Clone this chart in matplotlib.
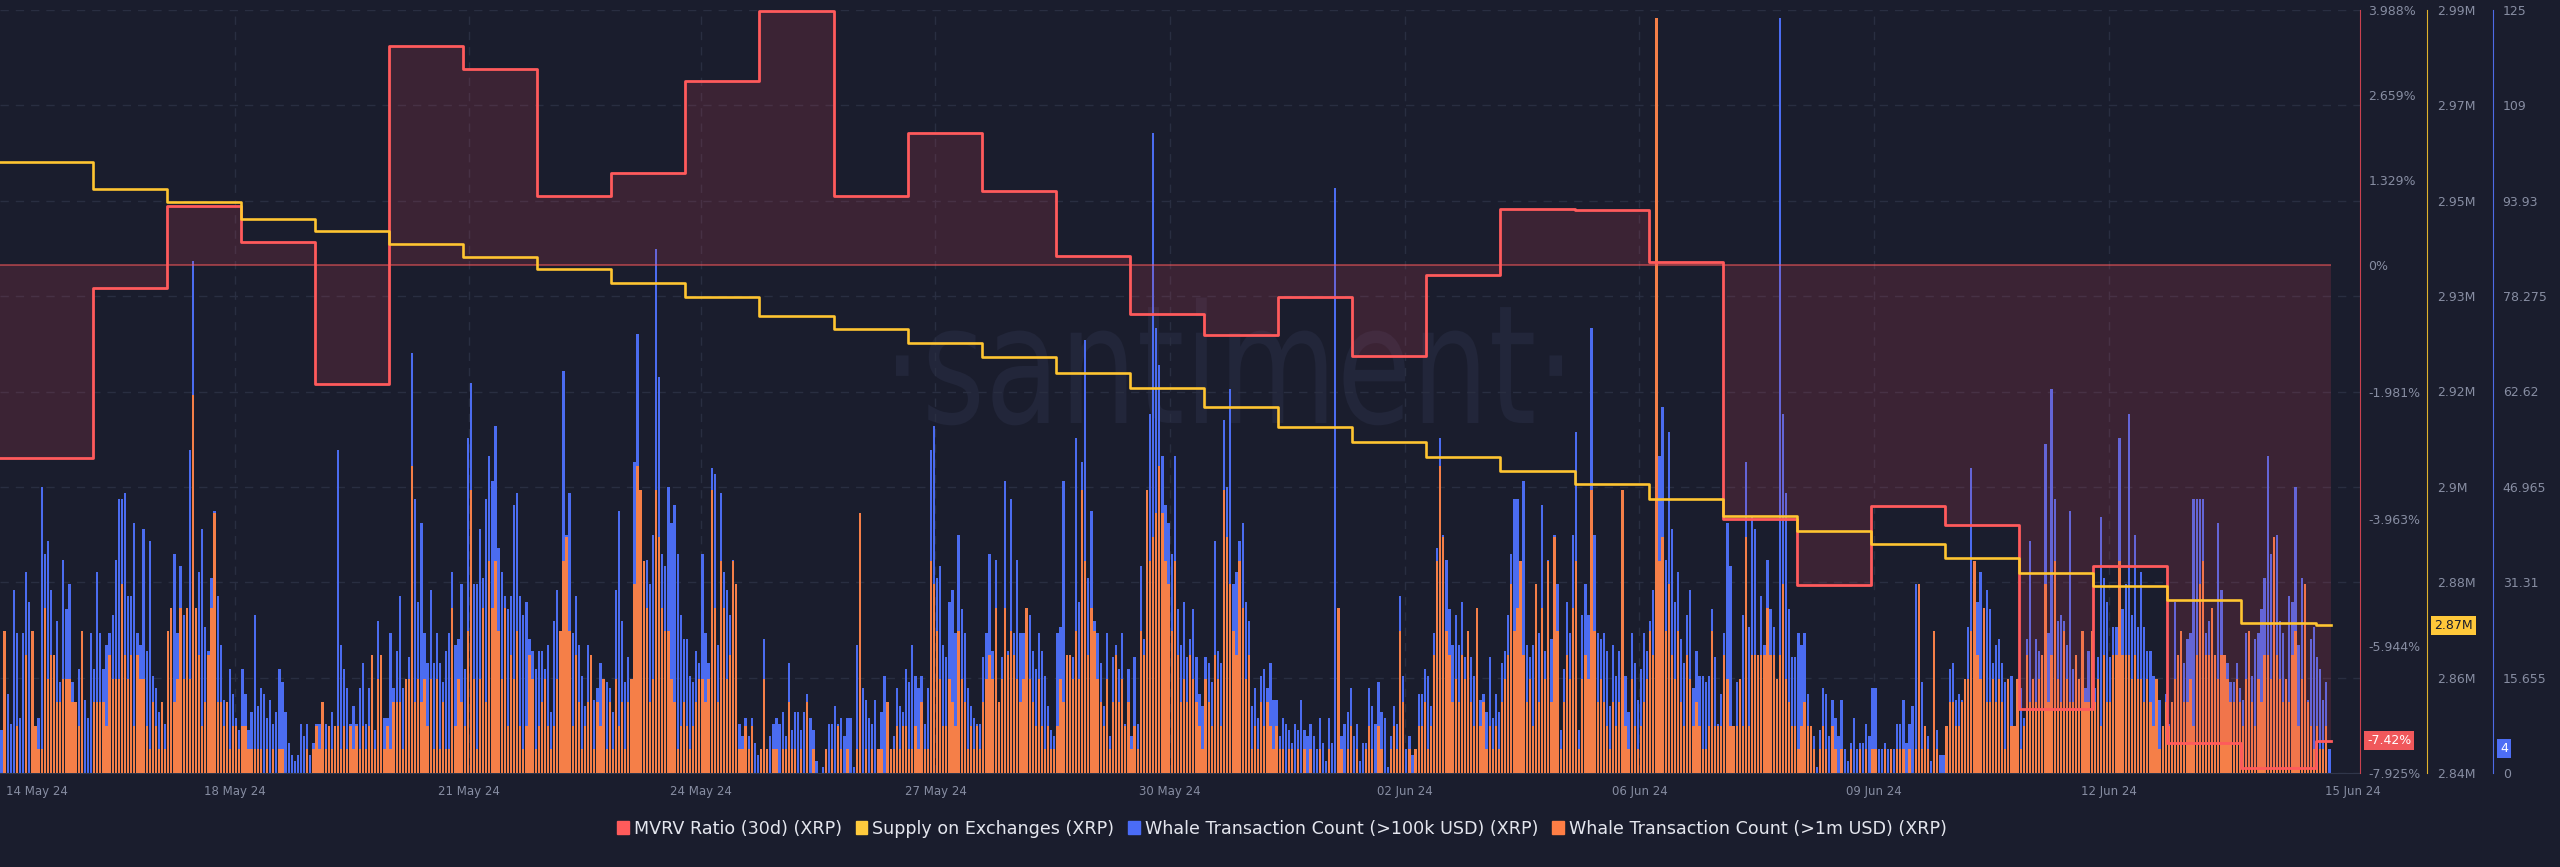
import matplotlib
matplotlib.use("Agg")
import matplotlib.pyplot as plt
from matplotlib.patches import Patch, PathPatch
from matplotlib.textpath import TextPath
from matplotlib.font_manager import FontProperties
from matplotlib.transforms import blended_transform_factory, Affine2D
import numpy as np

# daily series (one value per day, step change at the day boundary hour)
mvrv_30d = [-3.00, -0.35, 0.92, 0.37, -1.85, 3.42, 3.06, 1.08, 1.44, 2.88, 3.98,
            1.09, 2.07, 1.16, 0.15, -0.76, -1.09, -0.50, -1.41, -0.15, 0.88, 0.86,
            0.06, -3.96, -4.99, -3.75, -4.06, -6.93, -4.69, -7.45, -7.84, -7.42]
supply_m = [2.9602, 2.9548, 2.9522, 2.9490, 2.9465, 2.9439, 2.9414, 2.9390,
            2.9363, 2.9336, 2.9299, 2.9272, 2.9246, 2.9217, 2.9186, 2.9156,
            2.9119, 2.9080, 2.9051, 2.9022, 2.8994, 2.8968, 2.8939, 2.8906,
            2.8875, 2.8850, 2.8822, 2.8794, 2.8768, 2.8740, 2.8694, 2.8690]
day_start = [0] + list(range(30, 751, 24))

# hourly whale transaction counts
whale_100k = [
    7, 16, 13, 8, 30, 23, 9, 23, 33, 28,
    10, 7, 9, 47, 36, 38, 30, 19, 25, 15,
    35, 27, 31, 15, 11, 17, 6, 12, 9, 23,
    17, 33, 23, 17, 21, 23, 26, 35, 45, 45,
    46, 29, 29, 41, 23, 21, 40, 20, 38, 16,
    14, 10, 8, 8, 22, 23, 36, 23, 34, 26,
    22, 53, 84, 22, 33, 40, 24, 20, 32, 43,
    29, 21, 12, 9, 17, 13, 9, 7, 17, 13,
    7, 10, 26, 11, 14, 13, 9, 12, 8, 10,
    17, 15, 10, 5, 3, 2, 3, 8, 6, 8,
    3, 5, 8, 8, 6, 8, 5, 10, 6, 53,
    21, 17, 14, 8, 11, 8, 14, 18, 8, 14,
    12, 7, 25, 17, 9, 9, 23, 14, 20, 29,
    14, 14, 19, 69, 45, 28, 41, 23, 18, 30,
    18, 23, 18, 15, 20, 23, 33, 21, 22, 31,
    17, 55, 64, 31, 31, 40, 32, 45, 52, 48,
    57, 37, 33, 29, 27, 29, 44, 46, 29, 26,
    28, 22, 20, 17, 20, 20, 17, 21, 10, 25,
    30, 23, 66, 39, 46, 23, 29, 21, 16, 11,
    21, 19, 12, 14, 18, 14, 15, 14, 10, 30,
    43, 25, 15, 19, 14, 51, 72, 36, 28, 35,
    31, 39, 86, 65, 36, 34, 47, 41, 44, 36,
    26, 22, 22, 16, 15, 20, 18, 36, 23, 18,
    50, 49, 21, 46, 33, 30, 26, 35, 31, 8,
    6, 9, 6, 9, 5, 3, 2, 22, 3, 6,
    8, 9, 8, 10, 6, 18, 7, 10, 10, 7,
    10, 13, 9, 7, 2, 0, 1, 4, 8, 8,
    11, 8, 9, 6, 9, 9, 1, 21, 34, 14,
    12, 9, 8, 12, 4, 10, 16, 7, 3, 6,
    14, 11, 10, 17, 15, 21, 16, 14, 16, 8,
    14, 53, 57, 32, 34, 21, 19, 28, 30, 23,
    39, 27, 23, 14, 11, 9, 8, 8, 19, 23,
    36, 20, 35, 11, 19, 48, 20, 45, 23, 35,
    23, 23, 27, 26, 20, 17, 23, 20, 16, 11,
    7, 6, 23, 24, 48, 15, 18, 19, 55, 28,
    51, 71, 32, 43, 25, 23, 18, 11, 23, 6,
    19, 21, 17, 23, 8, 17, 6, 19, 8, 34,
    22, 46, 59, 105, 73, 67, 52, 44, 41, 36,
    52, 27, 21, 28, 19, 22, 27, 19, 13, 11,
    19, 18, 15, 38, 20, 18, 58, 47, 63, 31,
    33, 38, 41, 28, 25, 11, 14, 9, 16, 17,
    14, 18, 12, 12, 6, 9, 8, 7, 5, 8,
    7, 12, 7, 6, 8, 6, 4, 9, 5, 2,
    9, 5, 96, 27, 6, 8, 10, 14, 6, 8,
    2, 5, 5, 14, 11, 8, 15, 10, 9, 1,
    6, 11, 8, 29, 16, 4, 6, 3, 4, 13,
    13, 17, 16, 11, 23, 37, 55, 39, 35, 27,
    21, 26, 21, 28, 19, 23, 19, 16, 27, 12,
    13, 10, 19, 9, 13, 10, 18, 20, 26, 36,
    45, 45, 30, 48, 21, 19, 21, 31, 23, 44,
    20, 35, 22, 39, 31, 7, 17, 28, 23, 39,
    56, 7, 26, 31, 26, 73, 39, 23, 22, 23,
    20, 11, 21, 16, 20, 46, 16, 10, 23, 18,
    12, 17, 23, 20, 25, 30, 44, 52, 60, 35,
    56, 40, 28, 33, 22, 18, 26, 30, 14, 20,
    16, 16, 15, 16, 27, 19, 8, 13, 23, 41,
    34, 6, 15, 15, 26, 51, 24, 42, 40, 16,
    29, 21, 35, 27, 24, 15, 124, 59, 46, 27,
    19, 19, 23, 21, 23, 13, 7, 6, 1, 7,
    14, 13, 6, 12, 9, 6, 12, 4, 2, 5,
    9, 4, 5, 5, 8, 6, 14, 14, 4, 4,
    5, 4, 4, 4, 8, 8, 12, 5, 8, 11,
    31, 11, 15, 5, 6, 2, 23, 7, 3, 3,
    6, 17, 18, 12, 13, 12, 13, 24, 50, 29,
    28, 33, 23, 30, 27, 18, 21, 22, 18, 15,
    11, 16, 7, 9, 14, 9, 22, 38, 14, 22,
    20, 14, 54, 23, 63, 45, 25, 26, 25, 21,
    43, 17, 13, 13, 23, 14, 20, 23, 14, 19,
    42, 32, 28, 19, 24, 24, 55, 27, 31, 59,
    26, 39, 24, 33, 24, 20, 20, 16, 14, 12,
    7, 13, 8, 8, 28, 17, 20, 18, 22, 23,
    45, 45, 45, 45, 23, 25, 20, 18, 41, 30,
    19, 18, 15, 15, 18, 14, 12, 23, 21, 16,
    22, 23, 27, 32, 52, 36, 36, 39, 25, 23,
    13, 29, 28, 47, 21, 32, 18, 12, 22, 24,
    19, 17, 12, 15, 4,
]
whale_1m = [
    0, 6, 0, 0, 0, 2, 0, 0, 5, 0,
    6, 2, 1, 1, 7, 4, 5, 5, 3, 3,
    4, 4, 4, 3, 3, 2, 6, 0, 0, 0,
    3, 3, 3, 3, 2, 5, 4, 4, 4, 8,
    5, 4, 5, 2, 5, 4, 4, 2, 1, 3,
    2, 1, 3, 1, 6, 7, 3, 4, 7, 4,
    7, 4, 16, 7, 5, 2, 3, 5, 7, 11,
    3, 3, 2, 3, 1, 2, 2, 1, 2, 2,
    1, 1, 1, 1, 1, 0, 1, 0, 1, 0,
    1, 1, 0, 0, 0, 0, 0, 0, 0, 1,
    0, 1, 2, 1, 3, 1, 2, 1, 2, 2,
    1, 2, 1, 2, 1, 2, 1, 2, 1, 2,
    5, 1, 4, 5, 1, 2, 1, 3, 3, 3,
    1, 4, 4, 13, 3, 4, 3, 4, 2, 4,
    1, 4, 1, 3, 1, 1, 7, 2, 4, 3,
    2, 6, 12, 4, 1, 4, 7, 3, 9, 7,
    9, 6, 4, 7, 2, 5, 4, 6, 2, 1,
    2, 5, 4, 1, 2, 3, 4, 2, 1, 2,
    4, 6, 9, 10, 6, 2, 5, 3, 1, 2,
    3, 5, 1, 3, 2, 4, 1, 3, 1, 4,
    2, 3, 1, 3, 4, 8, 13, 12, 9, 7,
    3, 4, 12, 10, 7, 6, 6, 4, 3, 1,
    2, 3, 2, 1, 2, 3, 4, 4, 3, 4,
    12, 7, 3, 9, 7, 4, 5, 9, 8, 1,
    1, 2, 1, 2, 0, 0, 1, 4, 1, 0,
    1, 1, 0, 1, 1, 3, 1, 1, 0, 1,
    0, 3, 0, 1, 0, 0, 0, 1, 0, 1,
    0, 2, 1, 0, 1, 0, 0, 1, 11, 0,
    1, 0, 1, 0, 1, 1, 0, 3, 1, 1,
    2, 1, 2, 2, 1, 1, 2, 1, 3, 1,
    1, 9, 8, 6, 4, 2, 2, 4, 3, 2,
    6, 4, 3, 1, 2, 1, 2, 1, 3, 4,
    5, 4, 7, 3, 4, 7, 5, 6, 5, 4,
    3, 4, 7, 4, 3, 2, 4, 2, 1, 2,
    1, 1, 2, 4, 3, 5, 5, 4, 6, 4,
    12, 9, 5, 7, 6, 4, 3, 2, 4, 1,
    3, 5, 3, 4, 2, 3, 1, 2, 1, 6,
    5, 12, 9, 10, 11, 13, 11, 9, 8, 6,
    9, 5, 3, 4, 3, 5, 4, 3, 2, 1,
    4, 3, 2, 5, 4, 2, 12, 10, 8, 6,
    5, 9, 7, 4, 5, 1, 2, 1, 3, 2,
    3, 2, 1, 2, 1, 1, 0, 1, 1, 0,
    1, 0, 1, 0, 1, 0, 0, 1, 0, 0,
    1, 0, 0, 7, 1, 0, 1, 2, 0, 1,
    0, 0, 1, 2, 1, 0, 2, 1, 0, 0,
    1, 2, 1, 6, 3, 0, 1, 0, 1, 2,
    2, 3, 1, 2, 5, 9, 13, 10, 6, 5,
    3, 4, 3, 5, 4, 6, 3, 2, 7, 2,
    3, 1, 2, 1, 2, 1, 3, 4, 5, 8,
    6, 7, 9, 5, 3, 4, 2, 8, 3, 7,
    4, 9, 3, 10, 6, 1, 3, 5, 4, 7,
    9, 1, 4, 5, 4, 12, 6, 3, 4, 3,
    2, 1, 3, 2, 3, 12, 2, 1, 4, 2,
    1, 2, 3, 4, 6, 5, 32, 9, 10, 6,
    8, 5, 4, 6, 3, 2, 5, 4, 2, 3,
    2, 1, 1, 2, 6, 2, 2, 2, 5, 4,
    2, 2, 2, 4, 2, 10, 2, 5, 5, 5,
    5, 5, 7, 5, 5, 4, 5, 8, 4, 3,
    2, 2, 1, 2, 3, 2, 2, 1, 0, 1,
    2, 1, 0, 2, 1, 0, 1, 0, 0, 1,
    0, 0, 1, 0, 1, 0, 1, 1, 0, 0,
    1, 0, 1, 0, 1, 1, 1, 0, 1, 0,
    1, 8, 1, 2, 1, 0, 6, 1, 0, 0,
    2, 3, 3, 2, 2, 3, 4, 4, 6, 9,
    5, 4, 7, 3, 3, 4, 3, 4, 3, 1,
    4, 2, 2, 4, 1, 2, 5, 3, 4, 3,
    4, 5, 8, 3, 5, 9, 4, 3, 6, 4,
    3, 3, 5, 4, 6, 3, 3, 6, 3, 4,
    2, 5, 3, 3, 5, 5, 9, 5, 5, 5,
    4, 5, 4, 4, 3, 4, 3, 2, 4, 1,
    2, 3, 2, 3, 4, 5, 6, 3, 3, 4,
    2, 5, 8, 9, 5, 5, 7, 5, 4, 5,
    5, 4, 3, 3, 4, 3, 2, 4, 6, 3,
    2, 4, 3, 5, 5, 4, 10, 5, 4, 3,
    4, 3, 5, 6, 2, 4, 8, 3, 2, 1,
    2, 1, 1, 2, 0,
]

date_labels = ["14 May 24", "18 May 24", "21 May 24", "24 May 24", "27 May 24",
               "30 May 24", "02 Jun 24", "06 Jun 24", "09 Jun 24", "12 Jun 24",
               "15 Jun 24"]
date_ticks = [12, 76, 152, 227, 303, 379, 455, 531, 607, 683, 762]

mvrv_ticks = [3.988, 2.659, 1.329, 0, -1.981, -3.963, -5.944, -7.925]
supply_tick_labels = ["2.84M", "2.86M", "2.88M", "2.9M", "2.92M", "2.93M",
                      "2.95M", "2.97M", "2.99M"]
count_tick_labels = ["0", "15.655", "31.31", "46.965", "62.62", "78.275",
                     "93.93", "109", "125"]

BG = "#1a1d2d"
RED = "#ff5a5c"
YEL = "#ffc531"
BLUE = "#4b6cf0"
ORANGE = "#f57f48"
TXT = "#878da2"
GRID = "#292e41"

n = min(len(whale_100k), len(whale_1m))
hours = np.arange(n)
x_end = 764.4

fig = plt.figure(figsize=(25.6, 8.67), dpi=100, facecolor=BG)
ax = fig.add_axes([0, 1 - 773 / 867, 2360 / 2560, 763 / 867])
ax.set_facecolor(BG)

# watermark: tall narrow text, placed in pixels
wm = TextPath((0, 0), "\u00b7santiment\u00b7", size=100,
              prop=FontProperties(family="DejaVu Sans"))
ext = wm.get_extents()
sx = 666 / ext.width
sy = 90 / 54.5
wm_tr = Affine2D().translate(-ext.x0, 0).scale(sx, sy).translate(896, 867 - 423)
ax.add_patch(PathPatch(wm, transform=wm_tr, facecolor="#22263a",
                       edgecolor="none", zorder=0))

# blue bars on the main axes
ax.bar(hours + 0.5, whale_100k[:n], width=0.74, color=BLUE, linewidth=0, zorder=2)
ax.set_ylim(0, 125.24)
ax.set_xlim(0, x_end)
for s in ["left", "top"]:
    ax.spines[s].set_visible(False)
ax.spines["bottom"].set_color("#30364a")
ax.set_xticks(date_ticks, date_labels)
ax.tick_params(axis="x", length=0, pad=9, labelsize=8.5, labelcolor=TXT)
ax.grid(True, color=GRID, linestyle=(0, (6, 5)), linewidth=1)
ax.set_axisbelow(True)
gl = ax.get_xgridlines()
gl[0].set_visible(False)
gl[-1].set_visible(False)

# orange bars on a hidden scale
ax_o = ax.twinx()
ax_o.bar(hours + 0.5, whale_1m[:n], width=0.74, color=ORANGE, linewidth=0)
ax_o.set_ylim(0, 32.32)
ax_o.set_xlim(0, x_end)
ax_o.axis("off")

# MVRV
t_edges = day_start + [n]
ax_r = ax.twinx()
ax_r.fill_between(t_edges, mvrv_30d + [mvrv_30d[-1]], 0, step="post",
                  color="#e0445a", alpha=0.17, linewidth=0)
ax_r.hlines(0, t_edges[0], t_edges[-1], color=RED, alpha=0.55, linewidth=1.3)
ax_r.plot(t_edges, mvrv_30d + [mvrv_30d[-1]], drawstyle="steps-post",
          color=RED, linewidth=2)
ax_r.set_ylim(-7.925, 3.988)
ax_r.set_xlim(0, x_end)
ax_r.set_yticks(mvrv_ticks,
                ["0%" if v == 0 else "%.3f%%" % v for v in mvrv_ticks])
ax_r.tick_params(axis="y", length=0, pad=6, labelsize=9, labelcolor=TXT)
for s in ["left", "top", "bottom"]:
    ax_r.spines[s].set_visible(False)
ax_r.spines["right"].set_color("#c9414f")

# supply on exchanges
ax_y = ax.twinx()
ax_y.plot(t_edges, supply_m + [supply_m[-1]], drawstyle="steps-post",
          color=YEL, linewidth=1.9)
ax_y.set_ylim(2.84, 2.99)
ax_y.set_xlim(0, x_end)
ax_y.set_yticks(np.linspace(2.84, 2.99, 9), supply_tick_labels)
ax_y.spines["right"].set_position(("axes", 2427 / 2360))
ax_y.spines["right"].set_color("#e2b22c")
for s in ["left", "top", "bottom"]:
    ax_y.spines[s].set_visible(False)
ax_y.tick_params(axis="y", length=0, pad=7, labelsize=9, labelcolor=TXT)

# count axis on the right (twinx moved it to the left, so set it here)
ax.set_yticks(np.linspace(0, 125.24, 9), count_tick_labels)
ax.yaxis.tick_right()
ax.tick_params(axis="y", length=0, pad=7, labelsize=9, labelcolor=TXT,
               labelleft=False, labelright=True)
ax.spines["right"].set_visible(True)
ax.spines["right"].set_position(("axes", 2493 / 2360))
ax.spines["right"].set_color("#4e6ae6")

# last value badges
ax_r.text(2367 / 2360, mvrv_30d[-1], "%.2f%%" % mvrv_30d[-1],
          transform=blended_transform_factory(ax_r.transAxes, ax_r.transData),
          ha="left", va="center", fontsize=9, color="white", clip_on=False,
          bbox=dict(boxstyle="square,pad=0.25", fc="#f0585b", ec="none"))
ax_y.text(2434 / 2360, supply_m[-1], "%.2fM" % supply_m[-1],
          transform=blended_transform_factory(ax_y.transAxes, ax_y.transData),
          ha="left", va="center", fontsize=9, color="#1a1d2d", clip_on=False,
          bbox=dict(boxstyle="square,pad=0.25", fc="#ffc83a", ec="none"))
ax.text(2500 / 2360, whale_100k[n - 1], "%d" % whale_100k[n - 1],
        transform=blended_transform_factory(ax.transAxes, ax.transData),
        ha="left", va="center", fontsize=9, color="white", clip_on=False,
        bbox=dict(boxstyle="square,pad=0.25", fc="#4d6ef5", ec="none"))

handles = [Patch(color="#ff5b5b", label="MVRV Ratio (30d) (XRP)"),
           Patch(color="#ffcb3d", label="Supply on Exchanges (XRP)"),
           Patch(color="#4a6cf7", label="Whale Transaction Count (>100k USD) (XRP)"),
           Patch(color="#ff7e45", label="Whale Transaction Count (>1m USD) (XRP)")]
fig.legend(handles=handles, loc="center", bbox_to_anchor=(0.5008, 0.044),
           ncol=4, frameon=False, fontsize=12.6, labelcolor="#e4e6ee",
           handlelength=0.65, handleheight=0.75, handletextpad=0.3,
           columnspacing=0.8)

fig.savefig("out.png", dpi=100, facecolor=BG)
